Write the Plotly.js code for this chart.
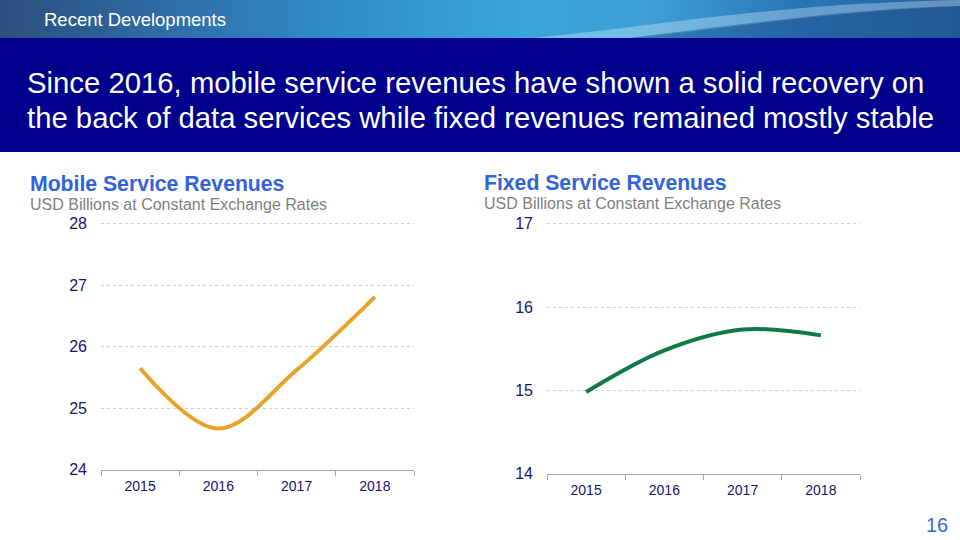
<!DOCTYPE html>
<html>
<head>
<meta charset="utf-8">
<script src="https://cdn.plot.ly/plotly-3.0.1.min.js"></script>
<style>
  html, body { margin:0; padding:0; background:#ffffff; }
  #wrap { position:relative; width:960px; height:540px; overflow:hidden; }
  #band { position:absolute; left:0; top:0; width:960px; height:39px;
    background: linear-gradient(90deg, #2b4f7c 0%, #2f6ea8 18%, #2f8cc8 35%, #3aa6dc 55%, #3d9fd6 68%, #2a78b8 82%, #245f9c 100%); }
  #plot { position:absolute; left:0; top:0; width:960px; height:540px; }
</style>
</head>
<body>
<div id="wrap">
  <div id="band"></div>
  <div id="plot"></div>
</div>
<script>
const years = ["2015", "2016", "2017", "2018"];
const mobileRevenue = [25.65, 24.67, 25.62, 26.81];
const fixedRevenue = [14.98, 15.48, 15.73, 15.66];
const mobileTicks = [24, 25, 26, 27, 28];
const fixedTicks = [14, 15, 16, 17];

const W = 960, H = 540;
const px = x => x / W;
const py = y => 1 - y / H;
const FONT = "Liberation Sans, Arial, sans-serif";
const NAVY = "#16166e";

const traces = [
  { x: years, y: mobileRevenue, xaxis: "x", yaxis: "y", type: "scatter", mode: "lines",
    line: { color: "#e8a32b", width: 4, shape: "spline", smoothing: 1 }, hoverinfo: "x+y" },
  { x: years, y: fixedRevenue, xaxis: "x2", yaxis: "y2", type: "scatter", mode: "lines",
    line: { color: "#0e7a46", width: 4, shape: "spline", smoothing: 1 }, hoverinfo: "x+y" }
];

function xAxis(domain) {
  return { domain: domain, type: "category", categoryorder: "array", categoryarray: years,
    range: [-0.5, years.length - 0.5],
    tickson: "boundaries", ticks: "outside", ticklen: 5, tickcolor: "#a6a6a6",
    showline: true, linecolor: "#a6a6a6", linewidth: 1.5, showgrid: false, zeroline: false,
    ticklabelstandoff: 3,
    tickfont: { family: FONT, size: 14, color: NAVY }, fixedrange: true };
}
function yAxis(domain, anchor, ticks, pxPerUnit) {
  const eps = 2 / pxPerUnit;
  return { domain: domain, anchor: anchor, range: [ticks[0], ticks[ticks.length - 1] + eps],
    tickvals: ticks, ticktext: ticks.map(String), ticks: "", showline: false, zeroline: false,
    showgrid: true, gridcolor: "#cdcdcd", griddash: "3px,3px", gridwidth: 1,
    ticklabelstandoff: 13, tickfont: { family: FONT, size: 16, color: NAVY }, fixedrange: true };
}

const ann = (x, y, text, size, color, opts) => Object.assign({
  xref: "paper", yref: "paper", x: px(x), y: py(y), text: text, showarrow: false,
  xanchor: "left", yanchor: "middle", font: { family: FONT, size: size, color: color }
}, opts || {});

const layout = {
  width: W, height: H, margin: { l: 0, r: 0, t: 0, b: 0 },
  paper_bgcolor: "rgba(0,0,0,0)", plot_bgcolor: "rgba(0,0,0,0)", showlegend: false,
  xaxis: Object.assign(xAxis([px(101), px(414)]), { anchor: "y" }),
  yaxis: yAxis([py(469.7), py(221.7)], "x", mobileTicks, 61.5),
  xaxis2: Object.assign(xAxis([px(547), px(860)]), { anchor: "y2" }),
  yaxis2: yAxis([py(473.7), py(221.7)], "x2", fixedTicks, 83.3),
  shapes: [
    { type: "path", xref: "paper", yref: "paper",
      path: `M ${px(520)} ${py(39)} C ${px(650)} ${py(28)}, ${px(760)} ${py(4)}, ${px(960)} ${py(0)} L ${px(960)} ${py(6)} C ${px(820)} ${py(12)}, ${px(720)} ${py(30)}, ${px(620)} ${py(39)} Z`,
      fillcolor: "rgba(220,240,255,0.35)", line: { width: 0 } },
    { type: "path", xref: "paper", yref: "paper",
      path: `M ${px(620)} ${py(39)} C ${px(760)} ${py(22)}, ${px(860)} ${py(8)}, ${px(960)} ${py(6)} L ${px(960)} ${py(39)} Z`,
      fillcolor: "rgba(30,80,140,0.45)", line: { width: 0 } },
    { type: "rect", xref: "paper", yref: "paper", x0: 0, x1: 1, y0: py(152), y1: py(38),
      fillcolor: "#00008c", line: { width: 0 } }
  ],
  annotations: [
    ann(42, 20, "Recent Developments", 18.5, "#ffffff"),
    ann(25, 82, "Since 2016, mobile service revenues have shown a solid recovery on", 29.3, "#ffffff"),
    ann(25, 117, "the back of data services while fixed revenues remained mostly stable", 29.3, "#ffffff"),
    ann(28, 183, "<b>Mobile Service Revenues</b>", 21.2, "#3163da"),
    ann(28, 204, "USD Billions at Constant Exchange Rates", 16, "#7f7f7f"),
    ann(482, 182, "<b>Fixed Service Revenues</b>", 21.2, "#3163da"),
    ann(482, 203, "USD Billions at Constant Exchange Rates", 16, "#7f7f7f"),
    ann(950, 525, "16", 20, "#3a66d6", { xanchor: "right" })
  ]
};

Plotly.newPlot("plot", traces, layout, { displayModeBar: false, staticPlot: true });
</script>
</body>
</html>
